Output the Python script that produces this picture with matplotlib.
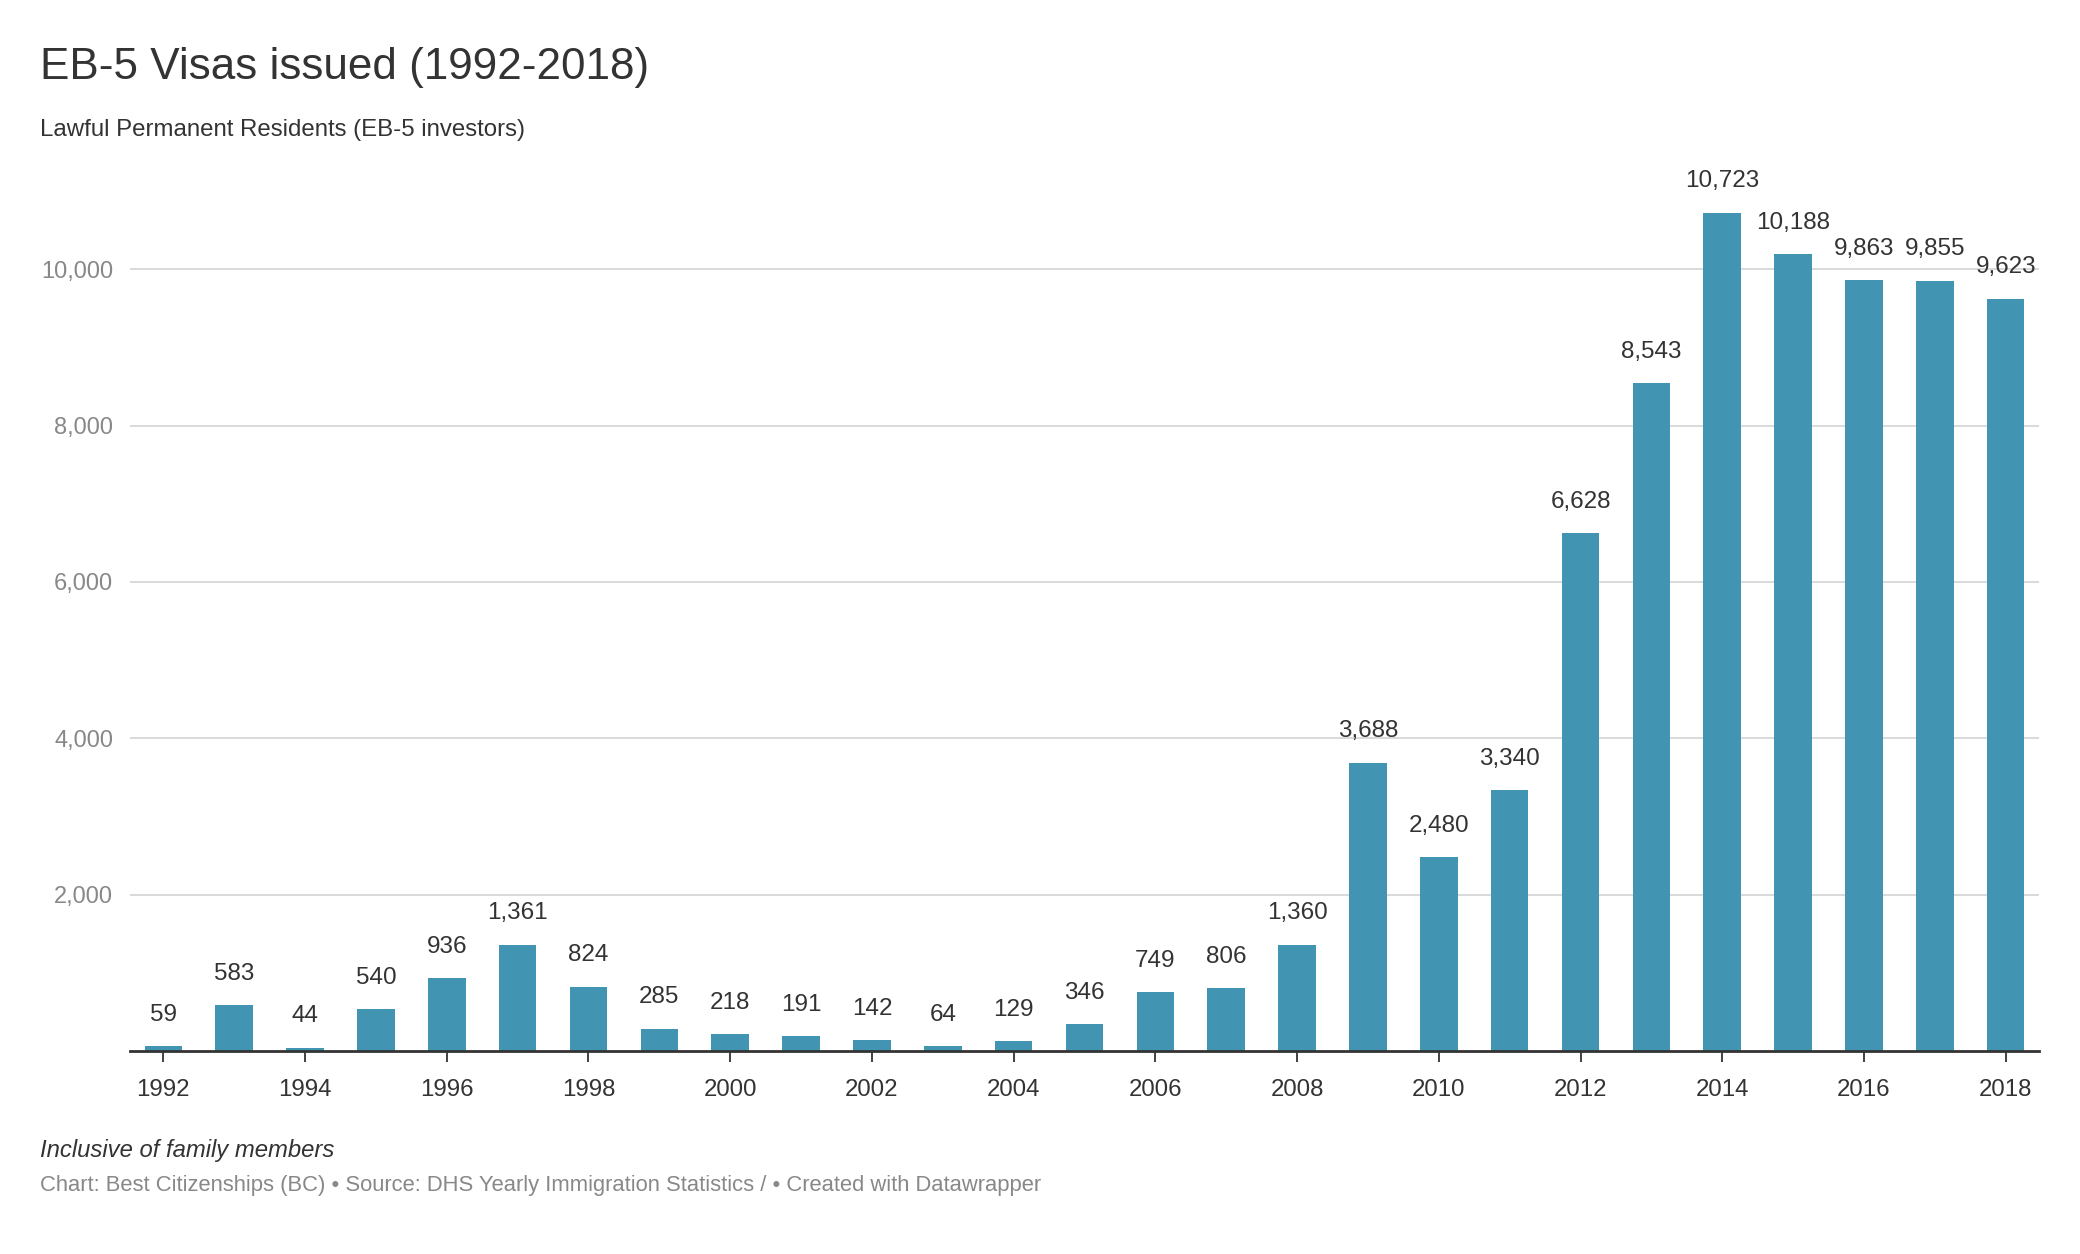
import matplotlib
matplotlib.use("Agg")
import matplotlib.pyplot as plt
from matplotlib.ticker import FuncFormatter

plt.rcParams["font.family"] = ["Liberation Sans", "DejaVu Sans"]

years = list(range(1992, 2019))
visas = [59, 583, 44, 540, 936, 1361, 824, 285, 218, 191, 142, 64, 129, 346,
         749, 806, 1360, 3688, 2480, 3340, 6628, 8543, 10723, 10188, 9863,
         9855, 9623]
y_ticks = [2000, 4000, 6000, 8000, 10000]
x_ticks = list(range(1992, 2019, 2))

title = "EB-5 Visas issued (1992-2018)"
subtitle = "Lawful Permanent Residents (EB-5 investors)"
note = "Inclusive of family members"
source = ("Chart: Best Citizenships (BC) \u2022 Source: DHS Yearly Immigration "
          "Statistics / \u2022 Created with Datawrapper")

BAR = "#4294b3"
DARK = "#333333"
GREY = "#888888"

W, H = 2080, 1254
fig = plt.figure(figsize=(W / 100, H / 100), dpi=100)
fig.patch.set_facecolor("white")

# axes box in pixel coords
left, right, top, bottom = 130, 2039, 191, 1051
ax = fig.add_axes([left / W, 1 - bottom / H, (right - left) / W, (bottom - top) / H])

ax.bar(years, visas, width=0.53, color=BAR, zorder=3)
for x, v in zip(years, visas):
    ax.annotate(f"{v:,}", (x, v), xytext=(0, 22.5), textcoords="offset points",
                ha="center", va="center", fontsize=17.5, color=DARK, zorder=4)

ax.set_xlim(1992 - 0.47, 2018 + 0.47)
ax.set_ylim(0, 11000)

ax.set_yticks(y_ticks)
ax.yaxis.set_major_formatter(FuncFormatter(lambda v, _: f"{int(v):,}"))
ax.grid(axis="y", color="#d9d9d9", linewidth=1.4, zorder=0)
ax.tick_params(axis="y", length=0, pad=12, labelsize=17, labelcolor=GREY)

ax.set_xticks(x_ticks)
ax.tick_params(axis="x", length=8, width=1.3, color=DARK, pad=12,
               labelsize=17.3, labelcolor=DARK)

for s in ["top", "right", "left"]:
    ax.spines[s].set_visible(False)
ax.spines["bottom"].set_color(DARK)
ax.spines["bottom"].set_linewidth(2)
ax.spines["bottom"].set_zorder(5)

fig.text(40 / W, 1 - 67 / H, title, fontsize=31.7, color=DARK, va="center", ha="left")
fig.text(40 / W, 1 - 130 / H, subtitle, fontsize=17.3, color=DARK, va="center", ha="left")
fig.text(40 / W, 1 - 1150 / H, note, fontsize=17.2, color=DARK, style="italic",
         va="center", ha="left")
fig.text(40 / W, 1 - 1185 / H, source, fontsize=15.8, color=GREY, va="center", ha="left")

fig.savefig("out.png", dpi=100, facecolor="white")
